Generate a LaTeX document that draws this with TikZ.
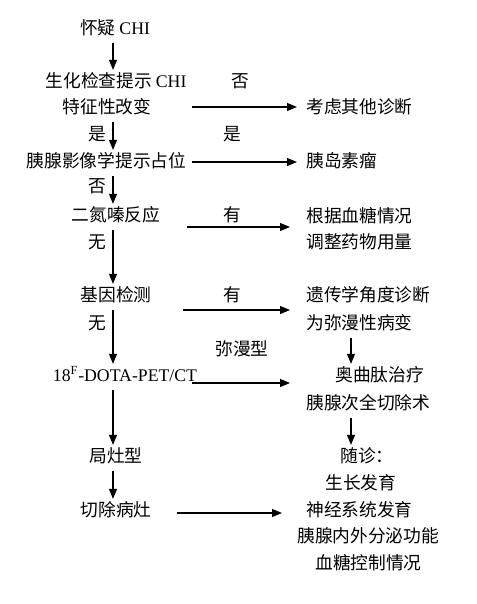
\documentclass[tikz,border=0pt]{standalone}
\usepackage{fontspec}
\setmainfont{Liberation Serif}
\newfontfamily\cjk{Noto Sans CJK SC}
\usetikzlibrary{arrows.meta, calc}

\begin{document}
\begin{tikzpicture}[x=0.75pt, y=-0.75pt, >=Stealth,
    txt/.style={inner xsep=0pt, inner ysep=4.5pt, text height=0.88em, text depth=0.15em,
      font=\fontsize{13.3}{16}\selectfont\cjk},
    arr/.style={-{Triangle[length=7.5pt, width=6pt]}, line width=0.8pt}]
  \useasboundingbox (0,0) rectangle (476,604);
  % Columns for the vertical arrows
  \coordinate (lc) at (113,0);
  \coordinate (rc) at (351,0);
  % Left column
  \node[txt] (hy) at (115,30) {怀疑 {\rmfamily CHI}};
  \node[txt] (sh) at (116,83) {生化检查提示 {\rmfamily CHI}};
  \node[txt] (tz) at (107,109) {特征性改变};
  \node[txt] (yx) at (106.5,163) {胰腺影像学提示占位};
  \node[txt] (dz) at (116,217) {二氮嗪反应};
  \node[txt] (jy) at (116,297) {基因检测};
  \node[txt] (pet) at (125,377) {\rmfamily 18\textsuperscript{F}-DOTA-PET/CT};
  \node[txt] (jz) at (116,458) {局灶型};
  \node[txt] (qc) at (116,512) {切除病灶};
  % Right column
  \node[txt, anchor=west] (kl) at (306,109) {考虑其他诊断};
  \node[txt, anchor=west] (yd) at (306,163) {胰岛素瘤};
  \node[txt, anchor=west] (xt) at (306,218) {根据血糖情况};
  \node[txt, anchor=west] (yl) at (306,244) {调整药物用量};
  \node[txt, anchor=west] (yc) at (306,297) {遗传学角度诊断};
  \node[txt, anchor=west] (mb) at (306,325) {为弥漫性病变};
  \node[txt, anchor=west] (aq) at (335,377) {奥曲肽治疗};
  \node[txt, anchor=west] (cq) at (306,405) {胰腺次全切除术};
  \node[txt, anchor=west] (sz) at (340,458) {随诊：};
  \node[txt, anchor=west] (sf) at (325,485) {生长发育};
  \node[txt, anchor=west] (sj) at (306,512) {神经系统发育};
  \node[txt, anchor=west] (nw) at (297,538) {胰腺内外分泌功能};
  \node[txt, anchor=west] (kz) at (315,565) {血糖控制情况};
  % Branch labels
  \foreach \y/\t in {136/是, 188/否, 244/无, 325/无}
    \node[txt] (l\y) at (97,\y) {\t};
  \node[txt] (no1) at (240,83) {否};
  \node[txt] (yes1) at (232,136) {是};
  \node[txt] (you1) at (232,217) {有};
  \node[txt] (you2) at (232,297) {有};
  \node[txt] (mm) at (242,351) {弥漫型};
  % Vertical arrows
  \draw[arr] (hy.south -| lc) -- (sh.north -| lc);
  \draw[arr] (tz.south -| lc) -- (yx.north -| lc);
  \draw[arr] (yx.south -| lc) -- (dz.north -| lc);
  \draw[arr] (dz.south -| lc) -- (jy.north -| lc);
  \draw[arr] (jy.south -| lc) -- (pet.north -| lc);
  \draw[arr] (pet.south -| lc) -- (jz.north -| lc);
  \draw[arr] (jz.south -| lc) -- (qc.north -| lc);
  \draw[arr] (mb.south -| rc) -- (aq.north -| rc);
  \draw[arr] (cq.south -| rc) -- (sz.north -| rc);
  % Horizontal arrows
  \draw[arr] ($(tz.east)+(40,-2)$) -- ($(kl.west)+(-9,-2)$);
  \draw[arr] ($(yx.east)+(5,-1)$) -- ($(yd.west)+(-9,-1)$);
  \draw[arr] ($(dz.east)+(26,10)$) -- ($(xt.west)+(-16,9)$);
  \draw[arr] ($(jy.east)+(31,13)$) -- ($(yc.west)+(-16,13)$);
  \draw[arr] ($(pet.east)+(-5,6)$) -- ($(aq.west)+(-45,6)$);
  \draw[arr] ($(qc.east)+(25,1)$) -- ($(sj.west)+(-24,1)$);
\end{tikzpicture}
\end{document}
